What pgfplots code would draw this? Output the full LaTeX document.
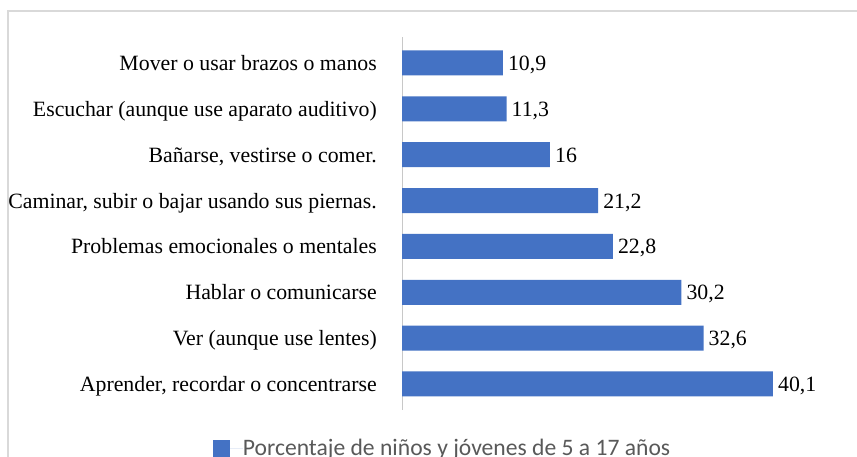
\documentclass[border=0pt]{standalone}
\usepackage{pgfplots}
\pgfplotsset{compat=1.18}
\usepackage{fontspec}
\setmainfont{Liberation Serif}
\newfontfamily\legfont{Carlito}
\definecolor{barcol}{RGB}{68,114,196}
\definecolor{framecol}{RGB}{217,217,217}
\definecolor{axcol}{RGB}{200,200,200}
\definecolor{legtext}{RGB}{89,89,89}
\begin{document}
\begin{tikzpicture}
\path[use as bounding box] (0pt,0pt) rectangle (857pt,457pt);
\clip (0pt,0pt) rectangle (857pt,457pt);
\fill[white] (0pt,0pt) rectangle (857pt,457pt);
\draw[framecol, line width=1.2pt] (8pt,-20pt) -- (8pt,446pt) -- (880pt,446pt);
\begin{axis}[
  at={(402pt,47pt)}, anchor=south west, scale only axis,
  width=416.25pt, height=373pt,
  xbar, bar width=25pt,
  xmin=0, xmax=45, ymin=-0.567, ymax=7.567,
  axis x line=none, axis y line*=left,
  axis line style={axcol, line width=1pt},
  ytick={0,...,7},
  yticklabels={{Aprender, recordar o concentrarse\hspace{4pt}}, {Ver (aunque use lentes)}, {Hablar o comunicarse}, {Problemas emocionales o mentales}, {Caminar, subir o bajar usando sus piernas.}, {Bañarse, vestirse o comer.}, {Escuchar (aunque use aparato auditivo)}, {Mover o usar brazos o manos}},
  major tick length=0pt,
  yticklabel style={font=\fontsize{21.8}{26}\selectfont, inner sep=0pt, anchor=base east, yshift=-7.5pt, xshift=-25pt},
  point meta=x,
  nodes near coords={\pgfmathprintnumber[use comma, assume math mode=true]{\pgfplotspointmeta}},
  nodes near coords style={font=\fontsize{21.8}{26}\selectfont, inner sep=0pt, anchor=base west, yshift=-7.5pt, xshift=5pt, text=black},
  legend style={draw=none, fill=none, inner sep=0pt, outer sep=0pt,
    at={(axis description cs:-0.4541,-0.1019)}, anchor=west,
    font=\legfont\fontsize{23.6}{28}\selectfont, text=legtext,
    nodes={inner sep=0pt}},
  legend image code/.code={\fill[barcol] (0pt,-8.5pt) rectangle (17pt,8.5pt); \path (17pt,0pt) -- (30pt,0pt);},
]
\addplot[fill=barcol, draw=none] coordinates {(40.1,0) (32.6,1) (30.2,2) (22.8,3) (21.2,4) (16,5) (11.3,6) (10.9,7)};
\addlegendentry{Porcentaje de niños y jóvenes de 5 a 17 años}
\end{axis}
\end{tikzpicture}
\end{document}
